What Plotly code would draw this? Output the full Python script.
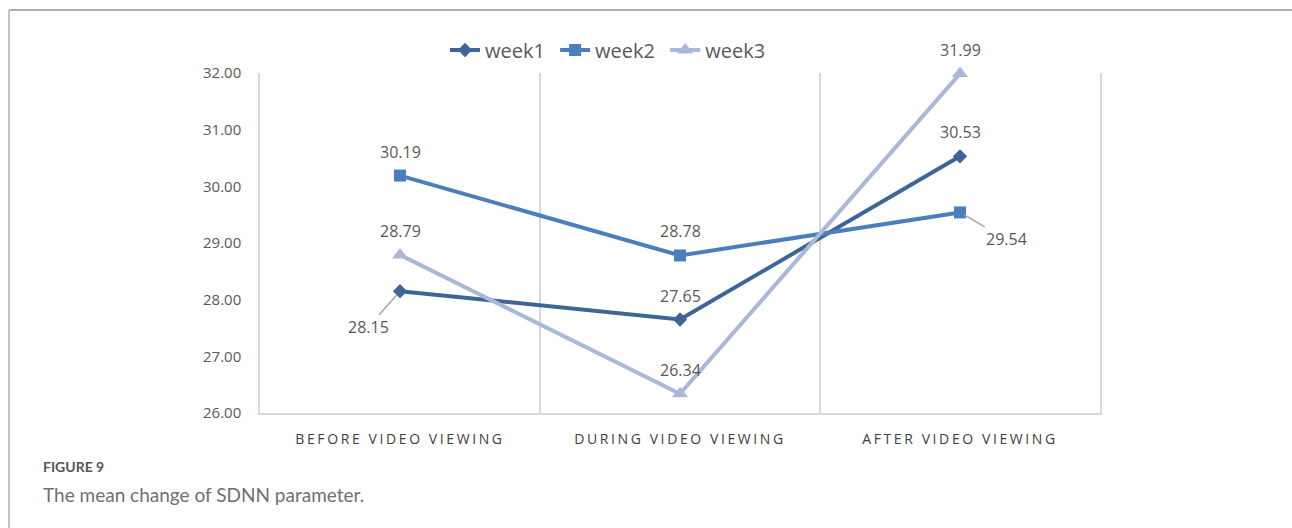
import plotly.graph_objects as go

categories = ["BEFORE VIDEO VIEWING", "DURING VIDEO VIEWING", "AFTER VIDEO VIEWING"]
week1 = [28.15, 27.65, 30.53]
week2 = [30.19, 28.78, 29.54]
week3 = [28.79, 26.34, 31.99]
series_names = ["week1", "week2", "week3"]
y_ticks = [26, 27, 28, 29, 30, 31, 32]

colors = ["#3d6597", "#4a7ebd", "#a9b8d8"]
symbols = ["diamond", "square", "triangle-up"]
sizes = [11, 12, 14]
FONT = "Open Sans"
LABEL_COLOR = "#595959"

fig = go.Figure()
for name, vals, c, s, sz in zip(series_names, [week1, week2, week3], colors, symbols, sizes):
    fig.add_trace(go.Scatter(
        x=categories, y=vals, name=name + " ", mode="lines+markers",
        line=dict(color=c, width=4), cliponaxis=False,
        marker=dict(symbol=s, size=sz, color=c, line=dict(width=0)),
    ))

# data labels
annotations = []
offsets = {  # (series index, point index): (ax, ay) for labels with leader lines
    (0, 0): (-32, 36),
    (1, 2): (46, 27),
}
for si, vals in enumerate([week1, week2, week3]):
    for pi, v in enumerate(vals):
        if (si, pi) in offsets:
            ax, ay = offsets[(si, pi)]
            annotations.append(dict(
                x=categories[pi], y=v, text=f"{v:.2f}", showarrow=True,
                ax=ax, ay=ay, arrowhead=0, arrowwidth=1.5, arrowcolor="#a6a6a6",
                standoff=5, font=dict(family=FONT, size=16, color=LABEL_COLOR),
            ))
        else:
            annotations.append(dict(
                x=categories[pi], y=v, text=f"{v:.2f}", showarrow=False,
                yshift=24, font=dict(family=FONT, size=16, color=LABEL_COLOR),
            ))

# caption
annotations.append(dict(xref="paper", yref="paper", x=(41 - 260) / 840, y=(413 - 467) / 340,
                        xanchor="left", yanchor="middle", showarrow=False,
                        text="<b>FIGURE 9</b>", font=dict(family="Lato", size=14, color="#555555")))
annotations.append(dict(xref="paper", yref="paper", x=(41 - 260) / 840, y=(413 - 494) / 340,
                        xanchor="left", yanchor="middle", showarrow=False,
                        text="The mean change of SDNN parameter.",
                        font=dict(family="Lato", size=19, color="#707070")))

shapes = [
    dict(type="line", xref="paper", yref="paper", x0=(9 - 260) / 840, x1=(1292 - 260) / 840,
         y0=(413 - 10) / 340, y1=(413 - 10) / 340, line=dict(color="#b0b0b0", width=2)),
    dict(type="line", xref="paper", yref="paper", x0=(9 - 260) / 840, x1=(9 - 260) / 840,
         y0=(413 - 10) / 340, y1=(413 - 528) / 340, line=dict(color="#b0b0b0", width=1.5)),
]

fig.update_layout(
    width=1292, height=528,
    margin=dict(l=260, r=192, t=73, b=115),
    paper_bgcolor="white", plot_bgcolor="white",
    showlegend=True,
    legend=dict(orientation="h", x=(445 - 260) / 840, xanchor="left",
                y=(413 - 50) / 340, yanchor="middle",
                font=dict(family=FONT, size=20, color=LABEL_COLOR),
                itemwidth=30, tracegroupgap=0, bgcolor="rgba(0,0,0,0)"),
    annotations=annotations,
    shapes=shapes,
    font=dict(family=FONT),
)
fig.update_xaxes(
    type="category", tickson="boundaries", showgrid=True, gridcolor="#d9d9d9", gridwidth=1.5,
    showline=True, linecolor="#d9d9d9", linewidth=1.5, ticks="", range=[-0.5, 2.5],
    tickfont=dict(family=FONT, size=14, color="#404040"), ticklabelstandoff=12,
)
fig.update_yaxes(
    range=[26, 32], tickvals=y_ticks, tickformat=".2f", showgrid=False,
    showline=True, mirror=True, linecolor="#d9d9d9", linewidth=1.5, ticks="", zeroline=False,
    tickfont=dict(family=FONT, size=15, color=LABEL_COLOR), ticklabelstandoff=14,
)

post = """
function sp(){document.querySelectorAll('.xtick text').forEach(function(t){t.style.letterSpacing='2.6px';});}
sp(); var gd=document.getElementsByClassName('plotly-graph-div')[0]; gd.on('plotly_afterplot', sp);
"""
fig.write_html("out.html", post_script=post)
